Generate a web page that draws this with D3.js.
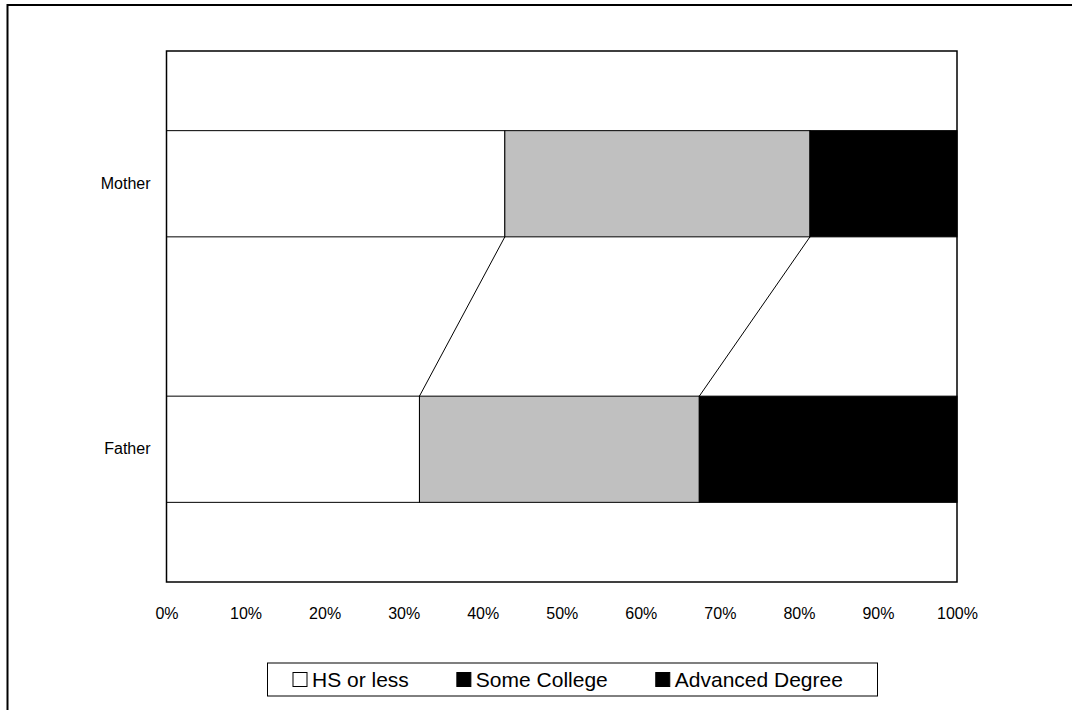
<!DOCTYPE html>
<html><head><meta charset="utf-8">
<script src="https://cdn.jsdelivr.net/npm/d3@7"></script>
<style>body{margin:0;background:#fff}svg{display:block}text{font-family:"Liberation Sans",Arial,sans-serif;fill:#000}</style>
</head><body><svg id="c" width="1072" height="710"></svg>
<script>
const categories = ["Mother", "Father"];
const seriesNames = ["HS or less", "Some College", "Advanced Degree"];
const hsOrLess = [42.8, 32.0];
const someCollege = [38.6, 35.4];
const advancedDegree = [18.6, 32.6];
const tickValues = [0,10,20,30,40,50,60,70,80,90,100];
const fills = ["#ffffff", "#c0c0c0", "#000000"];
const legendSwatch = ["#ffffff", "#000000", "#000000"];

const svg = d3.select("#c");
const m = {l:166.5, t:51, r:957, b:582};
// outer frame
svg.append("rect").attr("x",7.5).attr("y",5).attr("width",1120).attr("height",760)
  .attr("fill","none").attr("stroke","#000").attr("stroke-width",2);

const x = d3.scaleLinear().domain([0,100]).range([m.l, m.r]);
const y = d3.scaleBand().domain(categories).range([m.t, m.b]).paddingInner(0.6).paddingOuter(0.3);

const data = categories.map((c,i)=>({cat:c, hsOrLess:hsOrLess[i], someCollege:someCollege[i], advancedDegree:advancedDegree[i]}));
const keys = ["hsOrLess","someCollege","advancedDegree"];
const stack = d3.stack().keys(keys)(data);

// series lines between bars
for (let k=0;k<2;k++){
  const top = stack[k][0], bot = stack[k][1];
  svg.append("line")
    .attr("x1", x(top[1])).attr("y1", y("Mother")+y.bandwidth())
    .attr("x2", x(bot[1])).attr("y2", y("Father"))
    .attr("stroke","#000").attr("stroke-width",1);
}

stack.forEach((s,k)=>{
  svg.append("g").selectAll("rect").data(s).join("rect")
    .attr("x", d=>x(d[0])).attr("y", d=>y(d.data.cat))
    .attr("width", d=>x(d[1])-x(d[0])).attr("height", y.bandwidth())
    .attr("fill", fills[k]).attr("stroke","#000").attr("stroke-width",1);
});

// plot border
svg.append("rect").attr("x",m.l).attr("y",m.t).attr("width",m.r-m.l).attr("height",m.b-m.t)
  .attr("fill","none").attr("stroke","#000").attr("stroke-width",1.5);

// x axis labels
const xAxis = d3.axisBottom(x).tickValues(tickValues).tickFormat(d=>d+"%").tickSize(0).tickPadding(0);
const gx = svg.append("g").attr("transform",`translate(0,${m.b})`).call(xAxis);
gx.select(".domain").remove();
gx.selectAll("text").attr("font-size",16).attr("dy",null).attr("y",37)
  .style("font-family",'"Liberation Sans",Arial,sans-serif').attr("fill","#000");

// y axis labels
const yAxis = d3.axisLeft(y).tickSize(0).tickPadding(16);
const gy = svg.append("g").attr("transform",`translate(${m.l},0)`).call(yAxis);
gy.select(".domain").remove();
gy.selectAll("text").attr("font-size",16)
  .style("font-family",'"Liberation Sans",Arial,sans-serif').attr("fill","#000");

// legend
const lg = svg.append("g");
lg.append("rect").attr("x",267.5).attr("y",663).attr("width",610).attr("height",33)
  .attr("fill","#fff").attr("stroke","#000").attr("stroke-width",1);
let cx = 293;
seriesNames.forEach((n,i)=>{
  lg.append("rect").attr("x",cx).attr("y",672.5).attr("width",14).attr("height",14)
    .attr("fill",legendSwatch[i]).attr("stroke","#000").attr("stroke-width",1);
  const t = lg.append("text").attr("x",cx+19).attr("y",687).attr("font-size",21).text(n);
  cx = cx + 19 + t.node().getComputedTextLength() + 48;
});
</script></body></html>
